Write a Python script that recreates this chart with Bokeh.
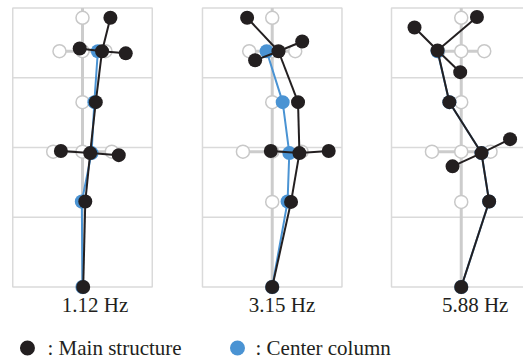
from bokeh.plotting import figure
from bokeh.models import Range1d
from bokeh.core.properties import value
from bokeh.embed import file_html
from bokeh.resources import INLINE

# Mode frequencies (Hz)
freqs = ["1.12 Hz", "3.15 Hz", "5.88 Hz"]

# Node order: base, floor 1, floor 2 (centre, west arm, east arm), floor 3,
#             floor 4 (centre, west arm, east arm), roof
node_y0 = [0.0, 1.22, 1.94, 1.94, 1.94, 2.65, 3.38, 3.38, 3.38, 3.86]
node_x0 = [0.0, 0.0, 0.0, -0.42, 0.42, 0.0, 0.0, -0.33, 0.33, 0.0]

# Deformed main-structure node positions for each mode
mode1_x = [0.01, 0.04, 0.11, -0.31, 0.52, 0.19, 0.28, -0.04, 0.62, 0.40]
mode1_y = [0.0, 1.225, 1.92, 1.95, 1.89, 2.65, 3.38, 3.42, 3.35, 3.86]
mode2_x = [0.0, 0.27, 0.39, -0.02, 0.81, 0.37, 0.09, -0.245, 0.43, -0.36]
mode2_y = [0.0, 1.22, 1.92, 1.95, 1.95, 2.65, 3.38, 3.25, 3.52, 3.86]
mode3_x = [0.0, 0.40, 0.29, -0.125, 0.70, -0.17, -0.34, -0.67, -0.015, 0.225]
mode3_y = [0.0, 1.225, 1.92, 1.73, 2.12, 2.65, 3.39, 3.72, 3.08, 3.87]

# Centre column (base, floor 1, floor 2, floor 3, floor 4)
col_y = [0.0, 1.225, 1.92, 2.65, 3.38]
col1_x = [0.0, -0.01, 0.13, 0.17, 0.22]
col2_x = [0.0, 0.22, 0.245, 0.15, -0.08]
col3_x = [0.0, 0.40, 0.29, -0.17, -0.34]

modes_x = [mode1_x, mode2_x, mode3_x]
modes_y = [mode1_y, mode2_y, mode3_y]
cols_x = [col1_x, col2_x, col3_x]

# Members connecting the nodes
edges = [(0, 1), (1, 2), (2, 3), (2, 4), (2, 5), (5, 6), (6, 7), (6, 8), (6, 9)]

BLACK = "#231f20"
BLUE = "#4a93d3"
GRID = "#dadada"
GREY = "#cccccc"
FONT = value("Liberation Serif")

S = 69.75  # pixels per unit
W, H = 523, 364
p = figure(width=W, height=H, output_backend="svg", toolbar_location=None,
           x_range=Range1d(-82 / S, (W - 82) / S),
           y_range=Range1d(-(H - 286.5) / S, 286.5 / S),
           min_border=0, outline_line_color=None)
p.axis.visible = False
p.grid.visible = False
p.background_fill_color = "white"
p.border_fill_color = "white"

offsets = [0.0, 2.72, 5.43]
label_x = [0.18, 2.86, 5.63]

for k, off in enumerate(offsets):
    # frame and floor lines
    p.quad(left=[off - 1], right=[off + 1], bottom=[0], top=[4],
           fill_color=None, line_color=GRID, line_width=1.5)
    p.segment(x0=[off - 1] * 3, x1=[off + 1] * 3, y0=[1, 2, 3], y1=[1, 2, 3],
              line_color=GRID, line_width=1.5)

    # undeformed shape
    p.segment(x0=[off], x1=[off], y0=[0], y1=[4], line_color=GREY, line_width=3)
    p.segment(x0=[off + node_x0[3], off + node_x0[7]],
              x1=[off + node_x0[4], off + node_x0[8]],
              y0=[node_y0[3], node_y0[7]], y1=[node_y0[4], node_y0[8]],
              line_color=GREY, line_width=3)
    p.scatter([off + x for x in node_x0], node_y0, size=13, marker="circle",
              fill_color="white", line_color="#c8c8c8", line_width=1.5)

    # centre column
    cx = [off + x for x in cols_x[k]]
    p.line(cx, col_y, line_color=BLUE, line_width=2)
    p.scatter(cx, col_y, size=14, marker="circle", fill_color=BLUE, line_color=None)

    # main structure
    mx = [off + x for x in modes_x[k]]
    my = modes_y[k]
    p.segment(x0=[mx[a] for a, b in edges], x1=[mx[b] for a, b in edges],
              y0=[my[a] for a, b in edges], y1=[my[b] for a, b in edges],
              line_color=BLACK, line_width=2)
    p.scatter(mx, my, size=14, marker="circle", fill_color=BLACK, line_color=None)

    p.text(x=[label_x[k]], y=[-0.265], text=[freqs[k]], text_align="center",
           text_baseline="middle", text_font=FONT, text_font_size="21px",
           text_color=BLACK)

# legend
LEG_Y = -0.875
p.scatter([-0.789], [LEG_Y], size=15, marker="circle", fill_color=BLACK, line_color=None)
p.text(x=[-0.502], y=[LEG_Y], text=[": Main structure"], text_align="left",
       text_baseline="middle", text_font=FONT, text_font_size="21px",
       text_color=BLACK)
p.scatter([2.222], [LEG_Y], size=15, marker="circle", fill_color=BLUE, line_color=None)
p.text(x=[2.480], y=[LEG_Y], text=[": Center column"], text_align="left",
       text_baseline="middle", text_font=FONT, text_font_size="21px",
       text_color=BLACK)

open("out.html", "w").write(file_html(p, INLINE))
